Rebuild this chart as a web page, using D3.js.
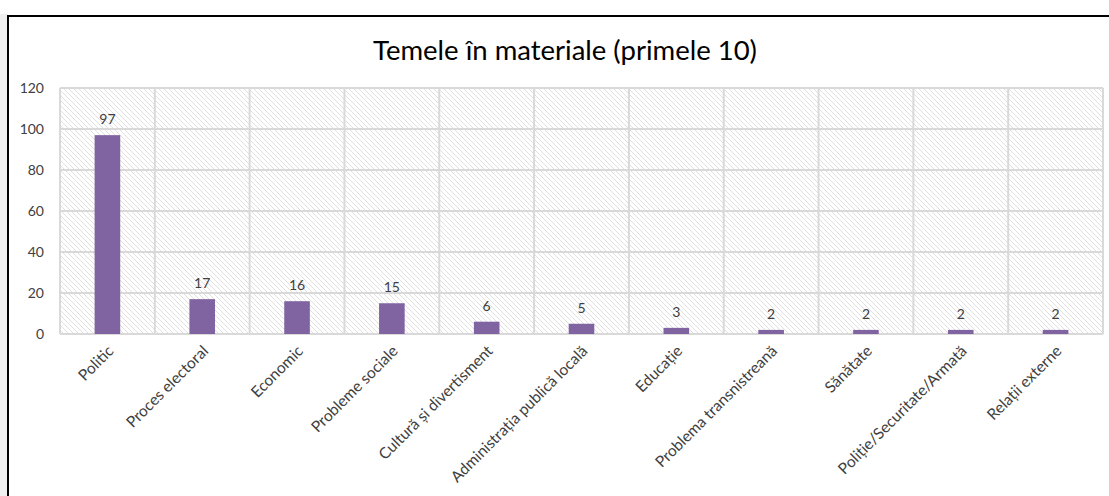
<!DOCTYPE html>
<html>
<head>
<meta charset="utf-8">
<script src="https://cdn.jsdelivr.net/npm/d3@7"></script>
<style>
  body { margin: 0; background: #ffffff; }
  svg { display: block; }
</style>
</head>
<body>
<div id="chart"></div>
<script>
// chart data
var categories = ["Politic", "Proces electoral", "Economic", "Probleme sociale",
    "Cultură și divertisment", "Administrația publică locală", "Educație",
    "Problema transnistreană", "Sănătate", "Poliție/Securitate/Armată", "Relații externe"];
var values = [97, 17, 16, 15, 6, 5, 3, 2, 2, 2, 2];
var yTicks = [0, 20, 40, 60, 80, 100, 120];
var title = "Temele în materiale (primele 10)";

var svgWidth = 1109;
var svgHeight = 496;
var plot = { left: 60, right: 1103, top: 88, bottom: 334 };
var font = "Lato, 'Open Sans', sans-serif";

var svg = d3.select("#chart")
    .append("svg")
    .attr("width", svgWidth)
    .attr("height", svgHeight);

// hatch pattern for the plot background
var defs = svg.append("defs");
var pat = defs.append("pattern")
    .attr("id", "hatch")
    .attr("patternUnits", "userSpaceOnUse")
    .attr("width", 5)
    .attr("height", 5);
pat.append("rect").attr("width", 5).attr("height", 5).attr("fill", "#ffffff");
pat.append("path")
    .attr("d", "M-1,-1 L6,6 M-1,4 L1,6 M4,-1 L6,1")
    .attr("stroke", "#e0e0e0")
    .attr("stroke-width", 1);

// gray strip on the left edge
svg.append("rect")
    .attr("x", 0).attr("y", 14)
    .attr("width", 8).attr("height", svgHeight)
    .attr("fill", "#f0f0f0");

// white chart panel with black frame
svg.append("rect")
    .attr("x", 8).attr("y", 16)
    .attr("width", svgWidth + 10).attr("height", svgHeight + 10)
    .attr("fill", "#ffffff")
    .attr("stroke", "#000000")
    .attr("stroke-width", 2);

var x = d3.scaleBand()
    .domain(categories)
    .range([plot.left, plot.right])
    .padding(0);

var y = d3.scaleLinear()
    .domain([0, 120])
    .range([plot.bottom, plot.top]);

svg.append("rect")
    .attr("x", plot.left).attr("y", plot.top)
    .attr("width", plot.right - plot.left)
    .attr("height", plot.bottom - plot.top)
    .attr("fill", "url(#hatch)");

// horizontal gridlines
svg.append("g")
    .selectAll("line")
    .data(yTicks)
    .enter()
    .append("line")
    .attr("x1", plot.left).attr("x2", plot.right)
    .attr("y1", function (d) { return y(d); })
    .attr("y2", function (d) { return y(d); })
    .attr("stroke", "#d9d9d9")
    .attr("stroke-width", 2);

// vertical gridlines between categories
var edges = categories.map(function (c) { return x(c); }).concat([plot.right]);
svg.append("g")
    .selectAll("line")
    .data(edges)
    .enter()
    .append("line")
    .attr("x1", function (d) { return d; })
    .attr("x2", function (d) { return d; })
    .attr("y1", plot.top).attr("y2", plot.bottom)
    .attr("stroke", "#d9d9d9")
    .attr("stroke-width", 2);

// bars
var barW = x.bandwidth() * 0.27;
svg.append("g")
    .selectAll("rect")
    .data(values)
    .enter()
    .append("rect")
    .attr("x", function (d, i) { return x(categories[i]) + x.bandwidth() / 2 - barW / 2; })
    .attr("y", function (d) { return y(d); })
    .attr("width", barW)
    .attr("height", function (d) { return y(0) - y(d); })
    .attr("fill", "#8064a2");

// value labels
svg.append("g")
    .selectAll("text")
    .data(values)
    .enter()
    .append("text")
    .attr("x", function (d, i) { return x(categories[i]) + x.bandwidth() / 2; })
    .attr("y", function (d) { return y(d) - 11; })
    .attr("text-anchor", "middle")
    .attr("font-family", font)
    .attr("font-size", 14)
    .attr("fill", "#404040")
    .text(function (d) { return d; });

// y axis labels
var yAxis = d3.axisLeft(y).tickValues(yTicks).tickSize(0).tickPadding(16);
var yg = svg.append("g")
    .attr("transform", "translate(" + plot.left + ",0)")
    .call(yAxis);
yg.select(".domain").remove();
yg.selectAll("text")
    .attr("font-family", font)
    .attr("font-size", 14)
    .attr("fill", "#404040");

// x axis labels, rotated
var xAxis = d3.axisBottom(x).tickSize(0).tickPadding(0);
var xg = svg.append("g")
    .attr("transform", "translate(0," + plot.bottom + ")")
    .call(xAxis);
xg.select(".domain").remove();
xg.selectAll("text")
    .attr("font-family", font)
    .attr("font-size", 15.5)
    .attr("fill", "#404040")
    .attr("text-anchor", "end")
    .attr("dy", 0)
    .attr("transform", "translate(7,18) rotate(-45)");

// title
svg.append("text")
    .attr("x", 565)
    .attr("y", 60)
    .attr("text-anchor", "middle")
    .attr("font-family", font)
    .attr("font-size", 27.5)
    .attr("fill", "#000000")
    .text(title);
</script>
</body>
</html>
